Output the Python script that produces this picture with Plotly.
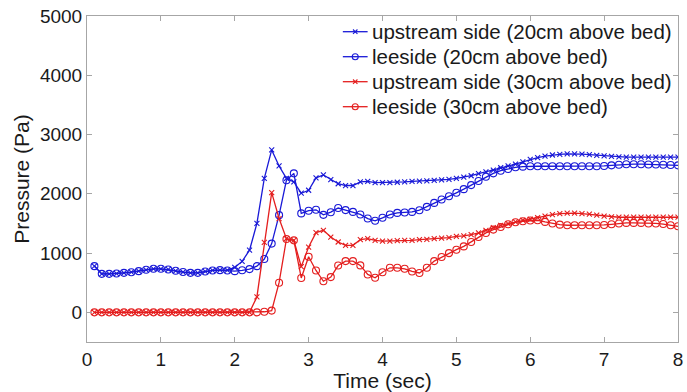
import plotly.graph_objects as go

# Sampling times (s)
time_s = [0.1, 0.2, 0.3, 0.4, 0.5, 0.6, 0.7, 0.8, 0.9, 1.0,
          1.1, 1.2, 1.3, 1.4, 1.5, 1.6, 1.7, 1.8, 1.9, 2.0,
          2.1, 2.2, 2.3, 2.4, 2.5, 2.6, 2.7, 2.8, 2.9, 3.0,
          3.1, 3.2, 3.3, 3.4, 3.5, 3.6, 3.7, 3.8, 3.9, 4.0,
          4.1, 4.2, 4.3, 4.4, 4.5, 4.6, 4.7, 4.8, 4.9, 5.0,
          5.1, 5.2, 5.3, 5.4, 5.5, 5.6, 5.7, 5.8, 5.9, 6.0,
          6.1, 6.2, 6.3, 6.4, 6.5, 6.6, 6.7, 6.8, 6.9, 7.0,
          7.1, 7.2, 7.3, 7.4, 7.5, 7.6, 7.7, 7.8, 7.9, 8.0]

# Pressure (Pa), upstream side, 20 cm above bed
upstream_20 = [780, 650, 650, 655, 667, 678, 695, 718, 735, 735,
               724, 701, 680, 667, 667, 690, 707, 712, 712, 760,
               860, 1050, 1500, 2260, 2740, 2470, 2260, 2200, 2010, 2060,
               2270, 2320, 2240, 2170, 2140, 2140, 2200, 2210, 2190, 2190,
               2190, 2195, 2200, 2210, 2215, 2220, 2225, 2235, 2245, 2260,
               2280, 2305, 2340, 2370, 2400, 2440, 2470, 2500, 2540, 2580,
               2610, 2635, 2655, 2665, 2675, 2675, 2670, 2660, 2650, 2640,
               2630, 2625, 2620, 2620, 2620, 2620, 2620, 2620, 2620, 2620]

# Pressure (Pa), leeside, 20 cm above bed
leeside_20 = [780, 650, 650, 655, 667, 678, 695, 718, 735, 735,
              724, 701, 680, 667, 667, 690, 707, 712, 707, 695,
              710, 730, 780, 900, 1160, 1640, 2230, 2345, 1670, 1715,
              1730, 1645, 1690, 1760, 1725, 1695, 1652, 1583, 1545, 1595,
              1650, 1678, 1684, 1695, 1724, 1780, 1847, 1904, 1960, 2017,
              2079, 2147, 2215, 2288, 2345, 2390, 2419, 2447, 2458, 2465,
              2465, 2465, 2465, 2465, 2465, 2465, 2465, 2465, 2465, 2470,
              2480, 2490, 2500, 2500, 2500, 2495, 2495, 2490, 2485, 2480]

# Pressure (Pa), upstream side, 30 cm above bed
upstream_30 = [0, 0, 0, 0, 0, 0, 0, 0, 0, 0,
               0, 0, 0, 0, 0, 0, 0, 0, 0, 0,
               0, 0, 260, 1180, 2020, 1583, 1244, 1215, 770, 1102,
               1345, 1385, 1271, 1187, 1130, 1130, 1226, 1243, 1215, 1203,
               1203, 1210, 1215, 1215, 1226, 1232, 1243, 1254, 1260, 1283,
               1290, 1310, 1340, 1385, 1430, 1469, 1498, 1526, 1554, 1571,
               1600, 1622, 1650, 1665, 1673, 1673, 1667, 1656, 1639, 1622,
               1611, 1605, 1605, 1605, 1605, 1605, 1605, 1605, 1605, 1605]

# Pressure (Pa), leeside, 30 cm above bed
leeside_30 = [0, 0, 0, 0, 0, 0, 0, 0, 0, 0,
              0, 0, 0, 0, 0, 0, 0, 0, 0, 0,
              0, 0, 0, 10, 30, 500, 1238, 1215, 580, 938,
              707, 525, 595, 790, 865, 865, 792, 640, 583, 678,
              752, 752, 735, 690, 665, 752, 865, 933, 1000, 1057,
              1113, 1187, 1271, 1340, 1396, 1441, 1486, 1520, 1537, 1549,
              1554, 1526, 1498, 1480, 1470, 1469, 1469, 1469, 1469, 1475,
              1486, 1498, 1509, 1509, 1509, 1500, 1500, 1490, 1469, 1452]

x_ticks = [0, 1, 2, 3, 4, 5, 6, 7, 8]
y_ticks = [0, 1000, 2000, 3000, 4000, 5000]

BLUE = "rgb(25,25,215)"
RED = "rgb(228,30,30)"
FONT = "Liberation Sans, Arial, sans-serif"
TEXT = "#1a1a1a"
AXIS = "#a6a6a6"

W, H = 687, 392
M_L, M_R, M_T, M_B = 87, 4, 16, 50
PLOT_W = W - M_L - M_R
PLOT_H = H - M_T - M_B

series = [
    ("upstream side (20cm above bed)", upstream_20, BLUE, "x-thin-open", 5),
    ("leeside (20cm above bed)", leeside_20, BLUE, "circle-open", 7),
    ("upstream side (30cm above bed)", upstream_30, RED, "x-thin-open", 5),
    ("leeside (30cm above bed)", leeside_30, RED, "circle-open", 7),
]

fig = go.Figure()
for name, values, color, symbol, size in series:
    fig.add_trace(go.Scatter(
        x=time_s, y=values, name=name, mode="lines+markers",
        showlegend=False,
        line=dict(color=color, width=1.3),
        marker=dict(symbol=symbol, size=size, color=color,
                    line=dict(color=color, width=1.1)),
    ))


def px_to_paper(px, py):
    """Convert page pixel position to paper coordinates of the plot area."""
    return (px - M_L) / PLOT_W, (H - M_B - py) / PLOT_H


# Key box in the upper-right corner: short line + marker glyph + label per row
KEY_LINE_X0, KEY_LINE_X1, KEY_TEXT_X = 345, 370, 372
KEY_ROW0, KEY_ROW_STEP = 31.7, 25
shapes, annotations = [], []
for i, (name, _, color, symbol, _) in enumerate(series):
    row_y = KEY_ROW0 + i * KEY_ROW_STEP
    x0, y = px_to_paper(KEY_LINE_X0, row_y)
    x1, _ = px_to_paper(KEY_LINE_X1, row_y)
    xm, _ = px_to_paper((KEY_LINE_X0 + KEY_LINE_X1) / 2, row_y)
    xt, _ = px_to_paper(KEY_TEXT_X, row_y)
    shapes.append(dict(type="line", xref="paper", yref="paper",
                       x0=x0, x1=x1, y0=y, y1=y,
                       line=dict(color=color, width=1.3)))
    if symbol.startswith("circle"):
        shapes.append(dict(type="circle", xref="paper", yref="paper",
                           xsizemode="pixel", ysizemode="pixel",
                           xanchor=xm, yanchor=y, x0=-3, x1=3, y0=-3, y1=3,
                           line=dict(color=color, width=1.1),
                           fillcolor="rgba(0,0,0,0)"))
    else:
        for sgn in (1, -1):
            shapes.append(dict(type="line", xref="paper", yref="paper",
                               xsizemode="pixel", ysizemode="pixel",
                               xanchor=xm, yanchor=y,
                               x0=-2.2, x1=2.2, y0=-2.2 * sgn, y1=2.2 * sgn,
                               line=dict(color=color, width=1.1)))
    annotations.append(dict(text=name, xref="paper", yref="paper",
                            x=xt, y=y, xanchor="left", yanchor="middle",
                            showarrow=False,
                            font=dict(family=FONT, size=20.5, color=TEXT)))

axis_common = dict(
    showline=True, linecolor=AXIS, linewidth=1, mirror="ticks",
    ticks="inside", ticklen=5, tickcolor=AXIS, tickwidth=1,
    showgrid=False, zeroline=False,
    tickfont=dict(family=FONT, size=19, color=TEXT),
)

fig.update_layout(
    width=W, height=H,
    margin=dict(l=M_L, r=M_R, t=M_T, b=M_B),
    paper_bgcolor="white", plot_bgcolor="white",
    font=dict(family=FONT, color=TEXT),
    xaxis=dict(range=[0, 8], tickvals=x_ticks, ticklabeloverflow="allow",
               title=dict(text="Time (sec)", font=dict(family=FONT, size=21, color=TEXT),
                          standoff=0),
               **axis_common),
    yaxis=dict(range=[-500, 5000], tickvals=y_ticks,
               title=dict(text="Pressure (Pa)", font=dict(family=FONT, size=21, color=TEXT),
                          standoff=4),
               **axis_common),
    shapes=shapes,
    annotations=annotations,
    showlegend=False,
)

fig.write_html("out.html")
